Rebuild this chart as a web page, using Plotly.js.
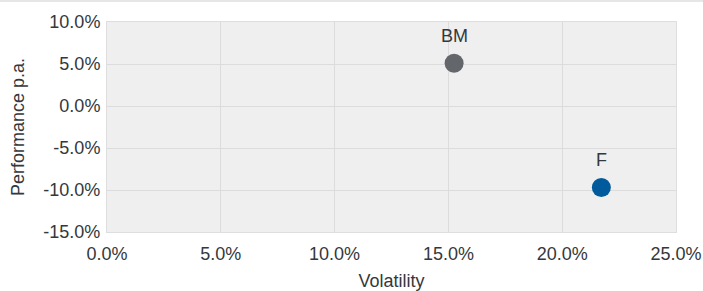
<!DOCTYPE html>
<html>
<head>
<meta charset="utf-8">
<script src="https://cdn.plot.ly/plotly-3.0.1.min.js"></script>
<style>
html,body{margin:0;padding:0;background:#fff;}
#topline{position:absolute;left:0;top:0;width:703px;height:2px;background:#e6e6e6;z-index:5;}
#chart{width:703px;height:291px;}
</style>
</head>
<body>
<div id="topline"></div>
<div id="chart"></div>
<script>
var names = ["BM", "F"];
var volatility = [15.25, 21.72];
var performance = [5.1, -9.7];
var colors = ["#63666b", "#005a9c"];
var xTicks = [0, 5, 10, 15, 20, 25];
var yTicks = [-15, -10, -5, 0, 5, 10];
var xTickText = xTicks.map(function(v){ return v.toFixed(1) + "%"; });
var yTickText = yTicks.map(function(v){ return v.toFixed(1) + "%"; });

var fam = "Liberation Sans, Arial, sans-serif";
var txtColor = "#34383c";
var traces = names.map(function(n, i){
  return {
    type: "scatter",
    mode: "markers",
    x: [volatility[i]],
    y: [performance[i]],
    marker: {size: 19, color: colors[i]},
    cliponaxis: false,
    hoverinfo: "none",
    name: n
  };
});

var annotations = names.map(function(n, i){
  return {
    x: volatility[i], y: performance[i], xref: "x", yref: "y",
    text: n, showarrow: false, yshift: 27,
    font: {family: fam, size: 18, color: txtColor}
  };
});

var layout = {
  width: 703, height: 291,
  margin: {l: 107, r: 27, t: 22, b: 59},
  paper_bgcolor: "#ffffff",
  plot_bgcolor: "#efefef",
  showlegend: false,
  font: {family: fam, size: 18, color: txtColor},
  annotations: annotations,
  xaxis: {
    range: [0, 25], tickmode: "array", tickvals: xTicks, ticktext: xTickText,
    showgrid: true, gridcolor: "#dcdcdc", gridwidth: 1, zeroline: false,
    showline: true, linecolor: "#dedede", linewidth: 1, mirror: true,
    ticks: "", ticklabelstandoff: 5,
    title: {text: "Volatility", font: {family: fam, size: 18, color: txtColor}, standoff: 17},
    automargin: false, fixedrange: true
  },
  yaxis: {
    range: [-15, 10], tickmode: "array", tickvals: yTicks, ticktext: yTickText,
    showgrid: true, gridcolor: "#dcdcdc", gridwidth: 1, zeroline: false,
    showline: true, linecolor: "#dedede", linewidth: 1, mirror: true,
    ticks: "", ticklabelstandoff: 2,
    title: {text: "Performance p.a.", font: {family: fam, size: 18, color: txtColor}, standoff: 14},
    automargin: false, fixedrange: true
  }
};
Plotly.newPlot("chart", traces, layout, {displayModeBar: false, staticPlot: true});
</script>
</body>
</html>
